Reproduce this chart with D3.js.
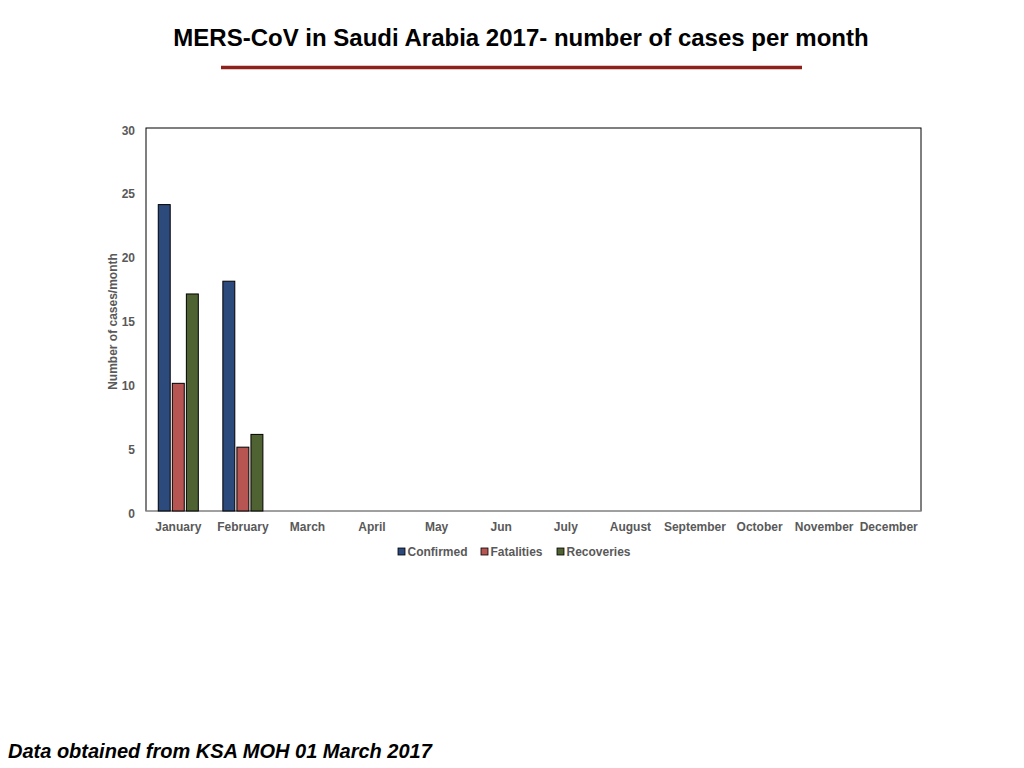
<!DOCTYPE html>
<html>
<head>
<meta charset="utf-8">
<script src="https://cdn.jsdelivr.net/npm/d3@7"></script>
<style>
  body { margin: 0; background: #fff; }
  svg { display: block; font-family: "Liberation Sans", Arial, sans-serif; }
</style>
</head>
<body>
<script>
/* MERS-CoV monthly cases chart */
var months = ["January", "February", "March", "April", "May", "Jun", "July",
              "August", "September", "October", "November", "December"];
var seriesNames = ["Confirmed", "Fatalities", "Recoveries"];
var seriesColors = ["#2c4a7c", "#b65551", "#4f6231"];
// only Jan and Feb reported so far
var confirmed = [24, 18];
var fatalities = [10, 5];
var recoveries = [17, 6];
var yTicks = [0, 5, 10, 15, 20, 25, 30];

var values = [confirmed, fatalities, recoveries];

var svg = d3.select("body").append("svg")
    .attr("width", 1024)
    .attr("height", 768);

// title + underline
svg.append("text")
    .attr("x", 521).attr("y", 46)
    .attr("text-anchor", "middle")
    .attr("font-size", 24).attr("font-weight", "bold")
    .attr("fill", "#000")
    .text("MERS-CoV in Saudi Arabia 2017- number of cases per month");

svg.append("line")
    .attr("x1", 221).attr("x2", 802)
    .attr("y1", 67.5).attr("y2", 67.5)
    .attr("stroke", "#8e211b").attr("stroke-width", 3.5);

var plotLeft = 146, plotRight = 921, plotTop = 128, plotBottom = 511;

var x0 = d3.scaleBand().domain(months).range([plotLeft, plotRight])
    .paddingInner(0.38).paddingOuter(0.19);
var x1 = d3.scaleBand().domain(seriesNames).range([0, x0.bandwidth()])
    .paddingInner(0.15);
var y = d3.scaleLinear().domain([0, 30]).range([plotBottom, plotTop]);

// frame
svg.append("rect")
    .attr("x", plotLeft).attr("y", plotTop)
    .attr("width", plotRight - plotLeft).attr("height", plotBottom - plotTop)
    .attr("fill", "none").attr("stroke", "#000").attr("stroke-width", 1);
svg.append("line")
    .attr("x1", plotLeft).attr("x2", plotRight)
    .attr("y1", plotBottom).attr("y2", plotBottom)
    .attr("stroke", "#bfbfbf").attr("stroke-width", 1.2);

// y axis labels
var yAxis = d3.axisLeft(y).tickValues(yTicks).tickSize(0).tickPadding(11);
var gy = svg.append("g").attr("transform", "translate(" + plotLeft + ",0)").call(yAxis);
gy.select(".domain").remove();
gy.selectAll("text")
    .attr("dy", "0.5em")
    .attr("fill", "#595959").attr("font-size", 12).attr("font-weight", "bold")
    .attr("font-family", "Liberation Sans, Arial, sans-serif");

// x axis labels
var xAxis = d3.axisBottom(x0).tickSize(0).tickPadding(11);
var gx = svg.append("g").attr("transform", "translate(0," + plotBottom + ")").call(xAxis);
gx.select(".domain").remove();
gx.selectAll("text")
    .attr("fill", "#595959").attr("font-size", 12).attr("font-weight", "bold")
    .attr("font-family", "Liberation Sans, Arial, sans-serif");

svg.append("text")
    .attr("transform", "translate(117," + ((plotTop + plotBottom) / 2 + 2) + ") rotate(-90)")
    .attr("text-anchor", "middle")
    .attr("font-size", 12).attr("font-weight", "bold")
    .attr("fill", "#595959")
    .text("Number of cases/month");

// bars
values.forEach(function(vals, si) {
    svg.append("g").selectAll("rect")
        .data(vals)
        .enter()
        .append("rect")
        .attr("x", function(d, i) { return x0(months[i]) + x1(seriesNames[si]); })
        .attr("y", function(d) { return y(d); })
        .attr("width", x1.bandwidth())
        .attr("height", function(d) { return y(0) - y(d); })
        .attr("fill", seriesColors[si])
        .attr("stroke", "#000")
        .attr("stroke-width", 1);
});

// legend
var legendX = [398, 481, 557];
var lg = svg.append("g").selectAll("g")
    .data(seriesNames)
    .enter()
    .append("g")
    .attr("transform", function(d, i) { return "translate(" + legendX[i] + ",548)"; });
lg.append("rect")
    .attr("width", 7).attr("height", 7)
    .attr("fill", function(d, i) { return seriesColors[i]; })
    .attr("stroke", "#000").attr("stroke-width", 0.8);
lg.append("text")
    .attr("x", 9.5).attr("y", 8)
    .attr("font-size", 12).attr("font-weight", "bold")
    .attr("fill", "#595959")
    .text(function(d) { return d; });

// source note
svg.append("text")
    .attr("x", 8).attr("y", 758)
    .attr("font-size", 20).attr("font-weight", "bold").attr("font-style", "italic")
    .attr("fill", "#000")
    .text("Data obtained from KSA MOH 01 March 2017");
</script>
</body>
</html>
